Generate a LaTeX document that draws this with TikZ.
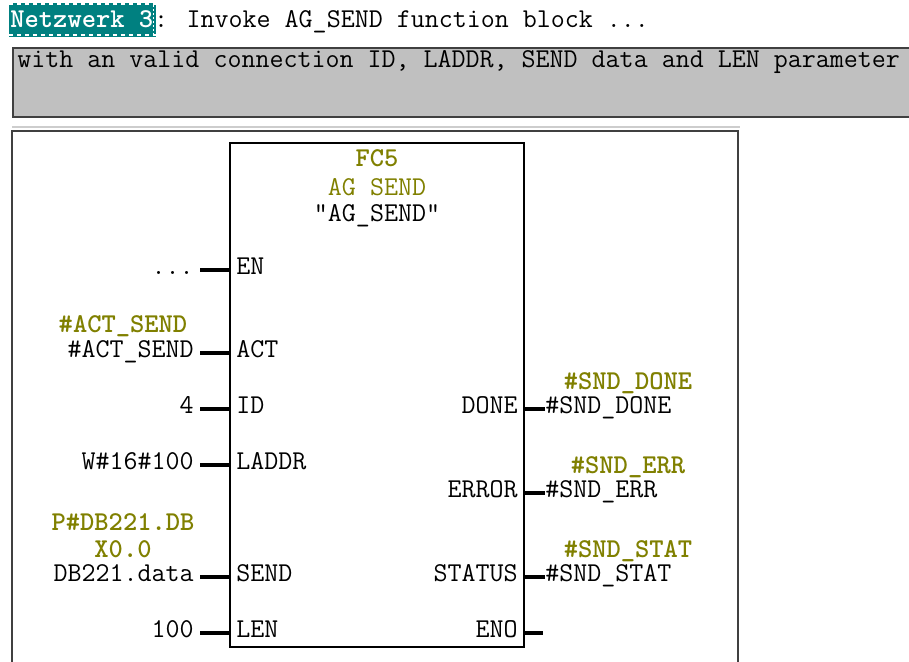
\documentclass[tikz,border=0pt]{standalone}
\usetikzlibrary{positioning}

\definecolor{netteal}{RGB}{0,128,128}
\definecolor{symolive}{RGB}{128,128,0}
\definecolor{cmtgray}{RGB}{192,192,192}
\definecolor{framegray}{RGB}{64,64,64}
\definecolor{sepgray}{RGB}{205,205,205}

\begin{document}
\begin{tikzpicture}[
  x=0.5pt, y=-0.5pt,
  font=\ttfamily\fontsize{13.6}{15}\selectfont,
  every node/.style={inner sep=0pt},
  fblock/.style={
    draw=black,
    line width=0.9pt,
    minimum width=147pt,
    minimum height=252pt
  },
  pinname/.style={inner xsep=3pt},
  invalue/.style={anchor=mid east, inner xsep=3pt},
  outvalue/.style={anchor=mid west},
  symbol/.style={text=symolive, font=\ttfamily\bfseries\fontsize{13.6}{15}\selectfont},
  pin/.style={line width=1.6pt}
]
\useasboundingbox (0,0) rectangle (909,662);

\fill[netteal] (9,3) rectangle (156,37);
\draw[white, line width=1pt, dash pattern=on 2pt off 2pt] (9,4.5) -- (156,4.5);
\draw[white, line width=1pt, dash pattern=on 2pt off 2pt] (9,35.5) -- (156,35.5);
\draw[white, line width=0.5pt, dash pattern=on 1pt off 1pt] (153,5) -- (153,35);
\node[anchor=base west, text=white, font=\ttfamily\bfseries\fontsize{13.6}{15}\selectfont] (netz) at (10,28) {Netzwerk 3};
\node[anchor=base west] (title) at (netz.base east) {: Invoke AG\_SEND function block ...};

\draw[draw=framegray, fill=cmtgray, line width=1pt] (13,48) rectangle (915,117);
\node[anchor=base west] (comment) at (17,68) {with an valid connection ID, LADDR, SEND data and LEN parameter};

\draw[sepgray, line width=1pt] (12,127) -- (740,127);
\draw[framegray, line width=1.1pt] (12,670) -- (12,131) -- (738,131) -- (738,670);

\node[fblock] (fb) at (377,395) {};
\node[symbol, anchor=base] (fbnum) at (377,167) {FC5};
\node[anchor=base, text=symolive] (fbname) at (377,196) {AG SEND};
\node[anchor=base] (fbsym) at (377,222) {"AG\_SEND"};

\foreach \pname/\py/\pval in {EN/270/{...}, ACT/353/\#ACT\_SEND, ID/409/4, LADDR/465/W\#16\#100, SEND/577/DB221.data, LEN/633/100}
{
  \node[pinname, anchor=mid west] (p\pname) at (230,\py) {\pname};
  \node[invalue] (v\pname) at (200,\py) {\pval};
  \draw[pin] (v\pname.mid east) -- (p\pname.mid west);
}

\node[symbol, anchor=base] (sACT) at (123,333) {\#ACT\_SEND};
\node[symbol, anchor=base] (sSEND) at (123,530) {P\#DB221.DB};
\node[symbol, anchor=base] (sSENDx) at (123,557) {X0.0};

\foreach \pname/\py/\pval in {DONE/409/\#SND\_DONE, ERROR/493/\#SND\_ERR, STATUS/577/\#SND\_STAT}
{
  \node[pinname, anchor=mid east] (p\pname) at (524,\py) {\pname};
  \node[outvalue] (v\pname) at (545,\py) {\pval};
  \draw[pin] (p\pname.mid east) -- (v\pname.mid west);
}

\node[pinname, anchor=mid east] (pENO) at (524,633) {ENO};
\coordinate (eno) at (543,633);
\draw[pin] (pENO.mid east) -- (eno);

\node[symbol, anchor=base] (sDONE) at (628,389) {\#SND\_DONE};
\node[symbol, anchor=base] (sERROR) at (628,473) {\#SND\_ERR};
\node[symbol, anchor=base] (sSTATUS) at (628,557) {\#SND\_STAT};

\end{tikzpicture}
\end{document}
